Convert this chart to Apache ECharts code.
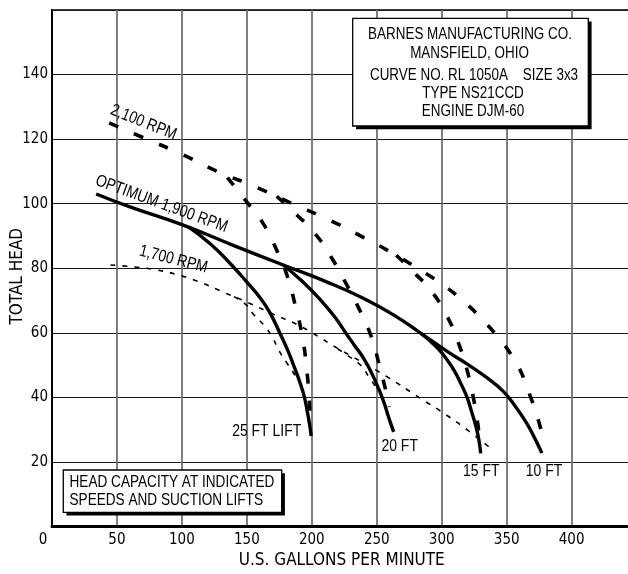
<!DOCTYPE html>
<html><head><meta charset="utf-8">
<script src="https://cdn.jsdelivr.net/npm/echarts@6/dist/echarts.min.js"></script>
<style>html,body{margin:0;padding:0;background:#fff}#c{width:628px;height:574px}</style>
</head><body><div id="c"></div>
<script>
// ---- tick labels ----
const xTickValues = [0, 50, 100, 150, 200, 250, 300, 350, 400];
const yTickValues = [20, 40, 60, 80, 100, 120, 140];

// ---- 1,900 RPM (optimum) main curve = 10 FT lift ----
const rpm1900_lift10 = [[34,103],[60,99],[100,93.5],[140,87],[178,81],[210,76],[240,70.6],[265,65],[284,59.8],[305,54],[320,50.2],[335,46],[347,42],[357,37],[365,32.2],[371,27.8],[375,24.5],[377,22.7]];
const rpm1900_lift25 = [[105,92.8],[122,87.5],[137.5,81.3],[150,75.7],[160.6,70.6],[168,66],[175.5,59.8],[181,55],[186.3,49.6],[190.5,45],[194,40.5],[196.8,35],[198.5,31],[199.5,28]];
const rpm1900_lift20 = [[178,81],[193,75.8],[207,70],[218,64.7],[226,60],[233,56],[240,52],[246,47.5],[250.5,43.5],[255,39],[259,34],[261.5,31],[263,29.3]];
const rpm1900_lift15 = [[284,59.8],[296,55.6],[304.5,51.4],[310,48],[315,44],[319.5,40],[323,35.5],[326.3,31],[328.5,27],[330,22.6]];

// ---- 2,100 RPM ----
const rpm2100_lift10 = [[44,125],[70,120.5],[100,115.3],[130,109.5],[155,105.5],[185,100],[212,95.2],[240,89.5],[263.3,84.4],[282,79.8],[299.3,75.3],[316,70],[331.5,64],[345.5,57.6],[353,53.5],[359,49.5],[364,45],[368,40.5],[372,36],[375,32],[377,29]];
const rpm2100_lift25 = [[135,108.1],[149,101],[162,94.2],[172.5,86],[181,77.7],[187.6,67.9],[192.8,58.6],[196,49],[198,39.6],[198.6,35]];
const rpm2100_lift20 = [[173,102.3],[186.3,97.3],[201.7,91.1],[214.6,83.6],[226,75.5],[236.4,67.4],[245.4,59.2],[252,49.9],[257,42],[259.5,37]];
const rpm2100_lift15 = [[265,84],[279,78.5],[291.6,73.1],[303.5,65.6],[312.7,57],[319.8,48],[325,38.5],[328,31],[329,27]];

// ---- 1,700 RPM ----
const rpm1700_main = [[45,81],[60,80.5],[80,79.5],[99,77.7],[114.4,75.6],[132.3,72.5],[150,69.5],[170,65.8],[188.9,62.5],[204.3,59],[217.1,55.8],[232.5,52.3],[258.2,46.3],[283.9,39.6],[301.8,35],[319.9,29.8],[336.5,24.6],[340,23.5]];
const rpm1700_lift25 = [[140,71.2],[149,68.8],[155.5,65.5],[163.2,62.3],[169.6,58.6],[174.7,54.5],[181.2,50.4],[186.3,47.3],[189,45.3]];
const rpm1700_lift20 = [[220,55],[227.4,53],[237.7,49.9],[244,46.3],[249.2,43.2]];

// ---- annotation texts ----
const titleLines = ['BARNES MANUFACTURING CO.', 'MANSFIELD, OHIO', 'CURVE NO. RL 1050A    SIZE 3x3', 'TYPE NS21CCD', 'ENGINE DJM-60'];
const noteLines = ['HEAD CAPACITY AT INDICATED', 'SPEEDS AND SUCTION LIFTS'];
const curveLabels = ['2,100 RPM', 'OPTIMUM 1,900 RPM', '1,700 RPM'];
const liftLabels = ['25 FT LIFT', '20 FT', '15 FT', '10 FT'];

const NARROW = "'Liberation Sans Narrow', 'DejaVu Sans Condensed', 'Liberation Sans', Arial, sans-serif";
const SANS = "'Liberation Sans', Arial, sans-serif";

function base(data, z, lineStyle) {
  return { type: 'line', data, showSymbol: false, smooth: 0.5, silent: true, z, lineStyle };
}
const solid = d => base(d, 5, { color: '#000', width: 3.4 });
const thickDash = d => base(d, 4, { color: '#000', width: 3.6, type: [10, 17] });
const thinDash = d => base(d, 3, { color: '#000', width: 1.6, type: [5, 7] });

function txt(text, x, y, opts) {
  opts = opts || {};
  return { type: 'text', x, y, rotation: opts.rot || 0, scaleX: opts.sx || 0.82, z: 20,
    style: { text, fill: '#000', font: (opts.size || 17) + 'px ' + SANS,
      align: opts.align || 'center', verticalAlign: 'middle' } };
}

const deg = Math.PI / 180;
const graphics = [
  { type: 'rect', shape: { x: 356, y: 21.5, width: 235.6, height: 107.7 }, style: { fill: '#000' }, z: 15 },
  { type: 'rect', shape: { x: 352.7, y: 18.3, width: 235.6, height: 107.7 }, style: { fill: '#fff', stroke: '#000', lineWidth: 1.3 }, z: 16 },
  txt(titleLines[0], 470, 35, { size: 16, sx: 0.84 }),
  txt(titleLines[1], 469.5, 53.5, { size: 16, sx: 0.84 }),
  txt(titleLines[2], 474, 76, { size: 16, sx: 0.84 }),
  txt(titleLines[3], 473, 94, { size: 16, sx: 0.84 }),
  txt(titleLines[4], 473, 111.5, { size: 16, sx: 0.84 }),
  { type: 'rect', shape: { x: 66.5, y: 473.3, width: 218.4, height: 42.3 }, style: { fill: '#000' }, z: 15 },
  { type: 'rect', shape: { x: 63.3, y: 470, width: 218.4, height: 42.3 }, style: { fill: '#fff', stroke: '#000', lineWidth: 1.3 }, z: 16 },
  txt(noteLines[0], 69.5, 482, { align: 'left', sx: 0.8 }),
  txt(noteLines[1], 69.5, 500, { align: 'left', sx: 0.8 }),
  txt(curveLabels[0], 143.5, 122.5, { rot: -22 * deg }),
  txt(curveLabels[1], 161.5, 204, { rot: -20 * deg }),
  txt(curveLabels[2], 173.5, 259.5, { rot: -14.5 * deg }),
  txt(liftLabels[0], 266.7, 431.5),
  txt(liftLabels[1], 399.7, 446),
  txt(liftLabels[2], 481.3, 471),
  txt(liftLabels[3], 544, 471)
];

const chart = echarts.init(document.getElementById('c'), null, { renderer: 'canvas' });
chart.setOption({
  animation: false,
  backgroundColor: '#fff',
  grid: { left: 52, right: -8.6, top: 10, bottom: 47.6, containLabel: false, outerBoundsMode: 'none',
    show: true, borderColor: '#000', borderWidth: 1.6, backgroundColor: 'transparent' },
  xAxis: {
    type: 'value', min: 0, max: 450, interval: 50,
    name: 'U.S. GALLONS PER MINUTE', nameLocation: 'middle', nameGap: 26, nameMoveOverlap: false,
    nameTextStyle: { color: '#000', fontSize: 17, fontFamily: NARROW, padding: [0, 5, 0, 0] },
    axisLine: { show: true, onZero: false, lineStyle: { color: '#000', width: 3 } },
    axisTick: { show: false },
    axisLabel: { color: '#000', fontSize: 15, fontFamily: NARROW, margin: 6, showMaxLabel: false,
      formatter: v => xTickValues.includes(v) ? (v === 0 ? '{z|' + v + '}' : String(v)) : '',
      rich: { z: { fontSize: 15, fontFamily: NARROW, color: '#000', padding: [0, 18, 0, 0] } } },
    splitLine: { show: true, lineStyle: { color: '#707070', width: 1.8 } }
  },
  yAxis: {
    type: 'value', min: 0, max: 160, interval: 20,
    name: 'TOTAL HEAD', nameLocation: 'middle', nameGap: 26, nameRotate: 90, nameMoveOverlap: false,
    nameTextStyle: { color: '#000', fontSize: 17, fontFamily: NARROW, padding: [0, 16, 0, 0] },
    axisLine: { show: true, onZero: false, lineStyle: { color: '#000', width: 2 } },
    axisTick: { show: false },
    axisLabel: { color: '#000', fontSize: 15, fontFamily: NARROW, margin: 4,
      formatter: v => yTickValues.includes(v) ? String(v) : '' },
    splitLine: { show: true, lineStyle: { color: '#1a1a1a', width: 1.1 } }
  },
  series: [
    thinDash(rpm1700_main), thinDash(rpm1700_lift25), thinDash(rpm1700_lift20),
    thickDash(rpm2100_lift10), thickDash(rpm2100_lift25), thickDash(rpm2100_lift20), thickDash(rpm2100_lift15),
    solid(rpm1900_lift10), solid(rpm1900_lift25), solid(rpm1900_lift20), solid(rpm1900_lift15)
  ],
  graphic: graphics
});
</script></body></html>
